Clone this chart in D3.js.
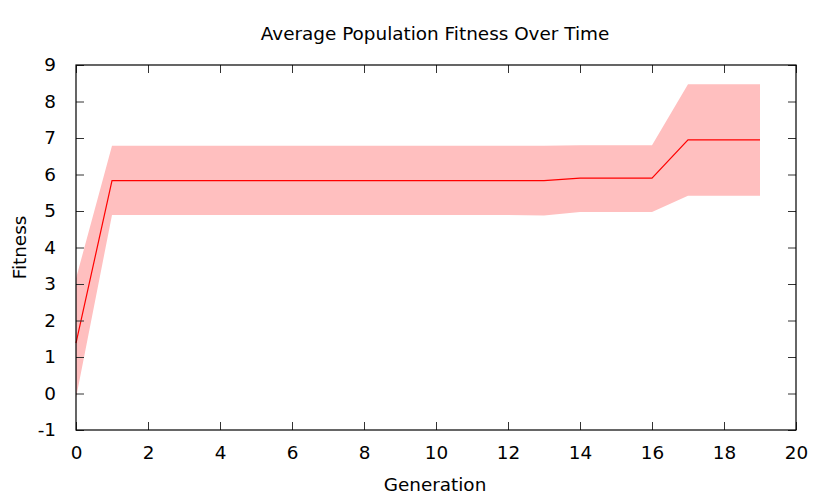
<!DOCTYPE html>
<html>
<head>
<meta charset="utf-8">
<script src="https://cdn.jsdelivr.net/npm/d3@7"></script>
<style>
  body { margin: 0; background: #fff; }
  text { font-family: "DejaVu Sans", sans-serif; fill: #000; }
</style>
</head>
<body>
<div id="chart"></div>
<script>
// data
var generations = [0, 1, 2, 3, 4, 5, 6, 7, 8, 9, 10, 11, 12, 13, 14, 15, 16, 17, 18, 19];
var meanFitness = [1.38, 5.83, 5.83, 5.83, 5.83, 5.83, 5.83, 5.83, 5.83, 5.83, 5.83, 5.83, 5.83, 5.83, 5.90, 5.90, 5.90, 6.95, 6.95, 6.95];
var upperFitness = [3.15, 6.79, 6.79, 6.79, 6.79, 6.79, 6.79, 6.79, 6.79, 6.79, 6.79, 6.79, 6.79, 6.79, 6.80, 6.80, 6.80, 8.47, 8.47, 8.47];
var lowerFitness = [-0.12, 4.89, 4.89, 4.89, 4.89, 4.89, 4.89, 4.89, 4.89, 4.89, 4.89, 4.89, 4.89, 4.88, 4.97, 4.97, 4.97, 5.42, 5.42, 5.42];
var xTicks = [0, 2, 4, 6, 8, 10, 12, 14, 16, 18, 20];
var yTicks = [-1, 0, 1, 2, 3, 4, 5, 6, 7, 8, 9];

var width = 830, height = 498;
var plotL = 76, plotR = 796, plotT = 65, plotB = 430;
var fontSize = "18.4px";

var rows = generations.map(function(g, i) {
	return { gen: g, mean: meanFitness[i], hi: upperFitness[i], lo: lowerFitness[i] };
});

var x = d3.scaleLinear().domain([0, 20]).range([plotL, plotR]);
var y = d3.scaleLinear().domain([-1, 9]).range([plotB, plotT]);

var svg = d3.select("#chart").append("svg")
	.attr("width", width)
	.attr("height", height);

// band (std spread)
var area = d3.area()
	.x(function(d) { return x(d.gen); })
	.y0(function(d) { return y(d.lo); })
	.y1(function(d) { return y(d.hi); });

svg.append("path")
	.datum(rows)
	.attr("d", area)
	.style("fill", "#ffbfbf")
	.style("stroke", "none");

// mean line
var line = d3.line()
	.x(function(d) { return x(d.gen); })
	.y(function(d) { return y(d.mean); });

svg.append("path")
	.datum(rows)
	.attr("d", line)
	.style("fill", "none")
	.style("stroke", "#ff0000")
	.style("stroke-width", 1.2);

// axes - gnuplot style, ticks inward, mirrored
var tickLen = 8;
var plain = function(d) { return String(d); }; // plain hyphen for -1
var xAxisB = d3.axisBottom(x).tickValues(xTicks).tickSizeInner(-tickLen).tickSizeOuter(0).tickPadding(16).tickFormat(plain);
var xAxisT = d3.axisTop(x).tickValues(xTicks).tickSizeInner(-tickLen).tickSizeOuter(0).tickFormat("");
var yAxisL = d3.axisLeft(y).tickValues(yTicks).tickSizeInner(-tickLen).tickSizeOuter(0).tickPadding(20).tickFormat(plain);
var yAxisR = d3.axisRight(y).tickValues(yTicks).tickSizeInner(-tickLen).tickSizeOuter(0).tickFormat("");

function styleAxis(g) {
	g.select(".domain").remove();
	g.selectAll(".tick line").style("stroke", "#333").style("stroke-width", 1);
	g.selectAll(".tick text")
		.style("font-family", "DejaVu Sans, sans-serif")
		.style("font-size", fontSize)
		.style("fill", "#000");
}

svg.append("g").attr("transform", "translate(0," + plotB + ")").call(xAxisB).call(styleAxis);
svg.append("g").attr("transform", "translate(0," + plotT + ")").call(xAxisT).call(styleAxis);
svg.append("g").attr("transform", "translate(" + plotL + ",0)").call(yAxisL).call(styleAxis);
svg.append("g").attr("transform", "translate(" + plotR + ",0)").call(yAxisR).call(styleAxis);

// frame
svg.append("rect")
	.attr("x", plotL).attr("y", plotT)
	.attr("width", plotR - plotL).attr("height", plotB - plotT)
	.style("fill", "none")
	.style("stroke", "#000")
	.style("stroke-width", 1.2);

// titles
svg.append("text")
	.attr("x", 435).attr("y", 40)
	.style("text-anchor", "middle")
	.style("font-size", fontSize)
	.text("Average Population Fitness Over Time");

svg.append("text")
	.attr("x", 435).attr("y", 491)
	.style("text-anchor", "middle")
	.style("font-size", fontSize)
	.text("Generation");

svg.append("text")
	.attr("transform", "translate(26," + ((plotT + plotB) / 2) + ") rotate(-90)")
	.style("text-anchor", "middle")
	.style("font-size", fontSize)
	.text("Fitness");
</script>
</body>
</html>
